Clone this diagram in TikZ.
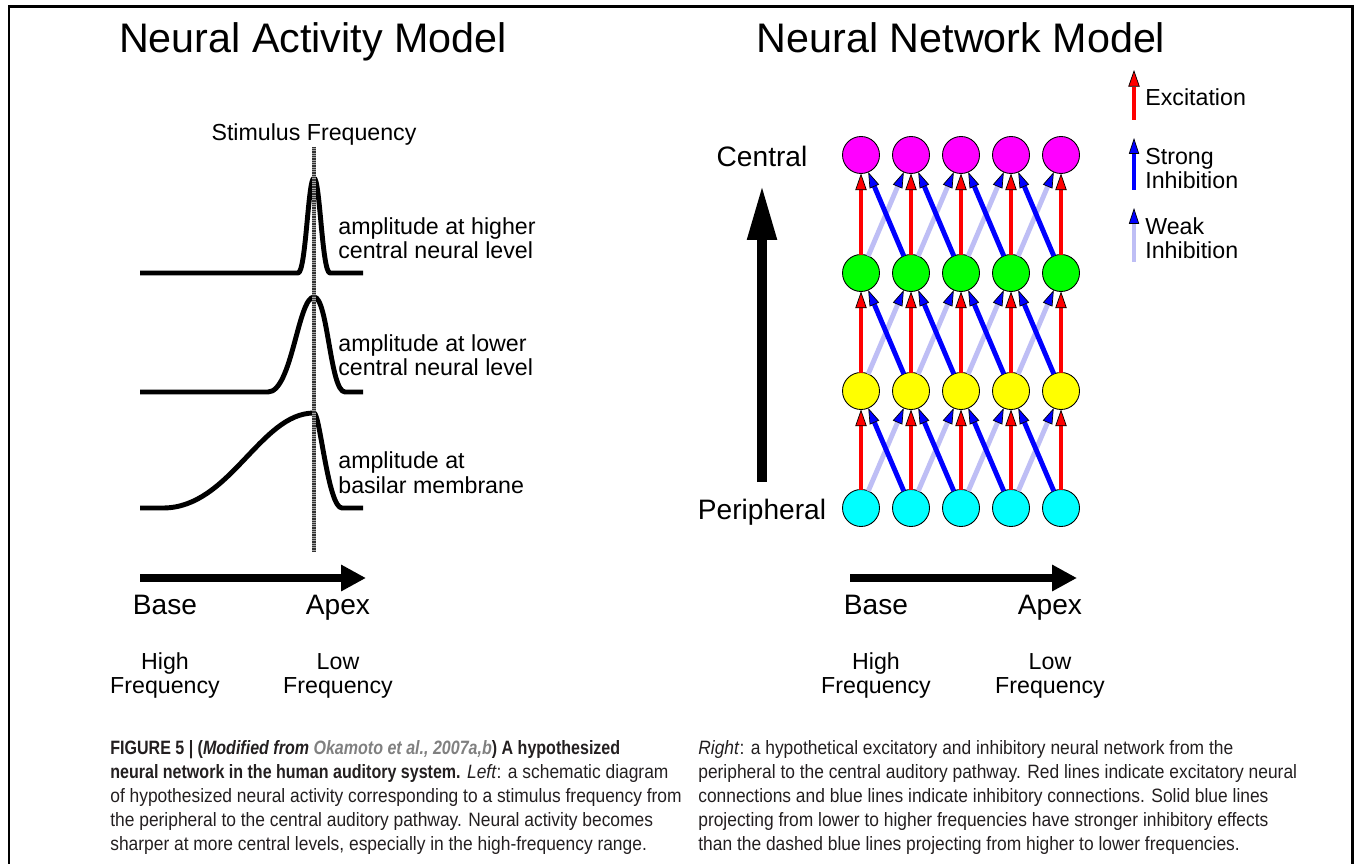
\documentclass[tikz,border=0pt]{standalone}
\usepackage{fontspec}
\setmainfont{Liberation Sans}
\newfontfamily\capfont[FakeStretch=0.9]{Liberation Sans}
\newfontfamily\capboldfont[FakeStretch=0.83]{Liberation Sans}
\usetikzlibrary{arrows.meta}

\definecolor{weakblue}{RGB}{190,190,245}
\definecolor{refgray}{RGB}{128,128,128}
\definecolor{captext}{RGB}{35,31,32}
\definecolor{nmag}{RGB}{255,0,255}
\definecolor{ngreen}{RGB}{0,255,0}
\definecolor{nyellow}{RGB}{255,255,0}
\definecolor{ncyan}{RGB}{0,255,255}

\newcommand{\titlesize}{\fontsize{23.5}{27}\selectfont}
\newcommand{\labsize}{\fontsize{13.2}{16}\selectfont}
\newcommand{\axsize}{\fontsize{16}{19}\selectfont}
\newcommand{\capsize}{\capfont\fontsize{11}{13.66}\selectfont}
\newcommand{\capbf}[1]{{\capboldfont\bfseries #1}}

\tikzset{
	neuron/.style={circle, draw=black, line width=0.5pt, minimum size=0.74cm, inner sep=0pt, outer sep=0pt},
	exc/.style={red, line width=2.3pt, -{Triangle[length=9.5pt, width=6.5pt, fill=red, color=black, line width=0.4pt]}},
	strong/.style={blue, line width=2.8pt, -{Triangle[length=9pt, width=5.8pt, fill=blue, color=black, line width=0.4pt]}},
	weak/.style={weakblue, line width=2.8pt, -{Triangle[length=9pt, width=5.8pt, fill=blue, color=black, line width=0.4pt]}},
	curva/.style={black, line width=2.8pt, line join=round},
	estim/.style={black!80, line width=2.8pt, dash pattern=on 0.5pt off 0.5pt, preaction={draw=black!35, line width=2.8pt, solid}},
	eje/.style={black, line width=4.5pt, -{Triangle[length=0.5cm, width=0.5cm]}},
	ejev/.style={black, line width=5.5pt, -{Triangle[length=1.1cm, width=0.55cm]}},
	lab/.style={font=\labsize, anchor=base, inner sep=0pt},
	labl/.style={font=\labsize, anchor=base west, inner sep=0pt},
	ax/.style={font=\axsize, anchor=base, inner sep=0pt}
}

\begin{document}
\begin{tikzpicture}[x=0.02cm, y=-0.02cm]
	\useasboundingbox (0,0) rectangle (1355,864);
	% Marco
		\draw[line width=1.7pt] (9,864) -- (9,7) -- (1352,7) -- (1352,864);

	% Modelo de actividad
		\node[font=\titlesize, anchor=base, inner sep=0pt] (tituloA) at (313,53) {Neural Activity Model};
		\node[lab] (estimulo) at (314,141) {Stimulus Frequency};

		% Curvas de amplitud
			\draw[curva] (140,273) -- (298,273) .. controls (306,273) and (308,178) .. (314,178) .. controls (320,178) and (322,273) .. (330,273) -- (363,273);
			\draw[curva] (140,392) -- (268,392) .. controls (292,392) and (298,297) .. (314,297) .. controls (328,297) and (330,392) .. (345,392) -- (363,392);
			\draw[curva] (140,508) -- (163,508) .. controls (230,508) and (260,413) .. (314,413) .. controls (320,413) and (328,508) .. (342,508) -- (363,508);

		% Frecuencia del estimulo
			\coordinate (stimA) at (314,147);
			\coordinate (stimB) at (314,552);
			\draw[estim] (stimA) -- (stimB);

		\node[labl] (altoA) at (338,235) {amplitude at higher};
		\node[labl] (altoB) at (338,259) {central neural level};
		\node[labl] (bajoA) at (338,352) {amplitude at lower};
		\node[labl] (bajoB) at (338,376) {central neural level};
		\node[labl] (basiA) at (338,469) {amplitude at};
		\node[labl] (basiB) at (338,494) {basilar membrane};

		% Eje base-apex
			\coordinate (ejeA) at (140,578);
			\coordinate (ejeB) at (366,578);
			\draw[eje] (ejeA) -- (ejeB);
			\node[ax] (baseA) at (165,614) {Base};
			\node[ax] (apexA) at (338,614) {Apex};
			\node[lab] (highA) at (165,669) {High};
			\node[lab] (freqA) at (165,693) {Frequency};
			\node[lab] (lowA) at (338,669) {Low};
			\node[lab] (freqB) at (338,693) {Frequency};

	% Modelo de red
		\node[font=\titlesize, anchor=base, inner sep=0pt] (tituloB) at (961,53) {Neural Network Model};

		% Neuronas
			\foreach \r/\y/\col in {1/508/ncyan, 2/391/nyellow, 3/273/ngreen, 4/155/nmag}
				\foreach \i in {1,...,5}
					\node[neuron, fill=\col] (n\r\i) at ({861+50*(\i-1)},\y) {};

		% Conexiones
			\foreach \r [evaluate=\r as \s using int(\r+1)] in {1,2,3}{
				\foreach \i [evaluate=\i as \j using int(\i+1)] in {1,...,4}{
					\draw[weak] (n\r\i) -- (n\s\j);
					\draw[strong] (n\r\j) -- (n\s\i);
				}
				\foreach \i in {1,...,5}
					\draw[exc] (n\r\i) -- (n\s\i);
			}

		% Eje periferico-central
			\coordinate (perif) at (762,482);
			\coordinate (centr) at (762,185);
			\draw[ejev] (perif) -- (centr);
			\node[ax] (central) at (762,167) {Central};
			\node[ax] (peripheral) at (762,520) {Peripheral};

		% Leyenda
			\coordinate (exA) at (1134,120);
			\coordinate (exB) at (1134,70);
			\coordinate (stA) at (1134,190);
			\coordinate (stB) at (1134,138);
			\coordinate (wkA) at (1134,262);
			\coordinate (wkB) at (1134,208);
			\draw[exc] (exA) -- (exB);
			\draw[strong] (stA) -- (stB);
			\draw[weak] (wkA) -- (wkB);
			\node[labl] (excit) at (1145,106) {Excitation};
			\node[labl] (strongA) at (1145,165) {Strong};
			\node[labl] (strongB) at (1145,189) {Inhibition};
			\node[labl] (weakA) at (1145,235) {Weak};
			\node[labl] (weakB) at (1145,259) {Inhibition};

		% Eje base-apex
			\coordinate (ejeC) at (850,578);
			\coordinate (ejeD) at (1077,578);
			\draw[eje] (ejeC) -- (ejeD);
			\node[ax] (baseB) at (876,614) {Base};
			\node[ax] (apexB) at (1050,614) {Apex};
			\node[lab] (highB) at (876,669) {High};
			\node[lab] (freqC) at (876,693) {Frequency};
			\node[lab] (lowB) at (1050,669) {Low};
			\node[lab] (freqD) at (1050,693) {Frequency};

	% Pie de figura
		\node[anchor=north west, align=left, font=\capsize, text=captext, inner sep=0pt] (pieA) at (110,740) {\capbf{FIGURE 5 | (\textit{Modified from \textcolor{refgray}{Okamoto et al., 2007a,b}}) A hypothesized}\\
			\capbf{neural network in the human auditory system.} \textit{Left}: a schematic diagram\\
			of hypothesized neural activity corresponding to a stimulus frequency from\\
			the peripheral to the central auditory pathway. Neural activity becomes\\
			sharper at more central levels, especially in the high-frequency range.};
		\node[anchor=north west, align=left, font=\capsize, text=captext, inner sep=0pt] (pieB) at (698,740) {\textit{Right}: a hypothetical excitatory and inhibitory neural network from the\\
			peripheral to the central auditory pathway. Red lines indicate excitatory neural\\
			connections and blue lines indicate inhibitory connections. Solid blue lines\\
			projecting from lower to higher frequencies have stronger inhibitory effects\\
			than the dashed blue lines projecting from higher to lower frequencies.};
\end{tikzpicture}
\end{document}
